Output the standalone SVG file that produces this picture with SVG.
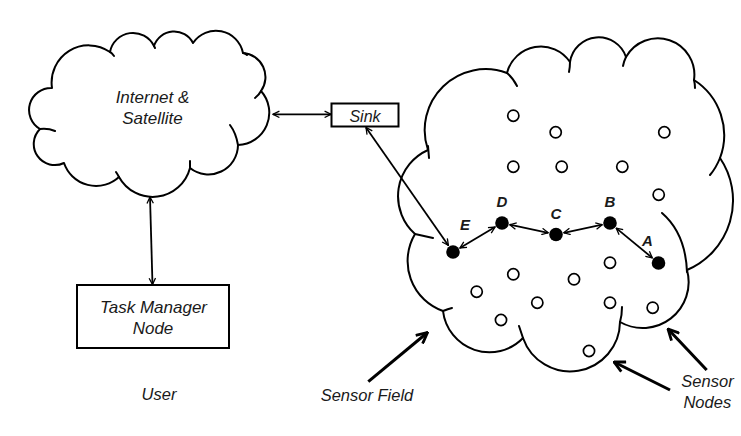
<svg xmlns="http://www.w3.org/2000/svg" width="741" height="436" viewBox="0 0 741 436">
<defs>
<style>
.cloud{fill:none;stroke:#000;stroke-width:2;stroke-linejoin:round;stroke-linecap:round}
.box{fill:#fff;stroke:#000;stroke-width:2}
.lbl{font-family:"Liberation Sans",Arial,sans-serif;font-style:italic;fill:#1a1a1a;text-anchor:middle}
.nl{font-family:"Liberation Sans",Arial,sans-serif;font-style:italic;font-weight:bold;font-size:15px;fill:#1a1a1a;text-anchor:middle}
.hollow{fill:#fff;stroke:#000;stroke-width:1.7}
.solid{fill:#000}
.conn{fill:none;stroke:#000;stroke-width:1.8}
.big{fill:none;stroke:#000;stroke-width:3}
</style>
<marker id="sm" viewBox="0 0 10 10" refX="9" refY="5" markerWidth="8" markerHeight="8" markerUnits="userSpaceOnUse" orient="auto-start-reverse">
<path d="M1,1 L9,5 L1,9" fill="none" stroke="#000" stroke-width="1.6"/>
</marker>
<marker id="lg" viewBox="0 0 12 12" refX="11" refY="6" markerWidth="13" markerHeight="13" markerUnits="userSpaceOnUse" orient="auto">
<path d="M1,1 L11,6 L1,11" fill="none" stroke="#000" stroke-width="2.6"/>
</marker>
</defs>
<rect width="741" height="436" fill="#fff"/>

<g id="internet-satellite">
<path class="cloud" d="M40,129 A22 22 0 0 1 52,88 A37.2 37.2 0 0 1 110,52 A23.4 23.4 0 0 1 154,46 A21.2 21.2 0 0 1 193,43 A27.6 27.6 0 0 1 243,53 A24.1 24.1 0 0 1 261,91 A32.4 32.4 0 0 1 238,145 A29.6 29.6 0 0 1 190,168 A38.5 38.5 0 0 1 119,177 A33.9 33.9 0 0 1 64,163 A21.1 21.1 0 0 1 40,129 Z"/>
<path class="cloud" d="M261,91 Q259,95 255,98 M238,145 Q236,133 230,125 M190,168 Q190,164 190,161 M119,177 Q118,175 116,172 M40,129 Q48,128 55,131 M110,52 Q112,53 114,56 M243,53 Q245,53 247,55 M154,46 L155,48"/>
<text class="lbl" font-size="17" x="152.5" y="102.5">Internet &amp;</text>
<text class="lbl" font-size="17" x="152.5" y="124">Satellite</text>
</g>

<g id="sink">
<rect class="box" x="331.5" y="103.5" width="67" height="23"/>
<text class="lbl" font-size="16" x="365" y="121.5">Sink</text>
</g>

<g id="task-manager">
<rect class="box" x="77" y="285" width="152" height="63"/>
<text class="lbl" font-size="17" x="153.5" y="312.5">Task Manager</text>
<text class="lbl" font-size="17" x="153" y="334">Node</text>
</g>

<g id="user-label">
<text class="lbl" font-size="16.5" x="159" y="400">User</text>
</g>

<g id="sensor-field">
<path class="cloud" d="M428,150 A61 61 0 0 1 507,73 A35 35 0 0 1 570,62 A28.9 28.9 0 0 1 626,57 A36.5 36.5 0 0 1 694,80 A65.4 65.4 0 0 1 720,158 A75.6 75.6 0 0 1 687,270 A45.9 45.9 0 0 1 620,322 A49.9 49.9 0 0 1 523,338 A46.7 46.7 0 0 1 443,311 A53 53 0 0 1 415,234 A50.6 50.6 0 0 1 428,150 Z"/>
<path class="cloud" d="M428,146 Q428.5,152 429,158 M507,73 Q513,78 517,86 M570,62 Q570,67 569,72 M626,57 Q624,61 623,66 M694,80 Q695,84 695,88 M720,158 Q716,168 710,175 M662,213 C677,226 686,245 687,272 M620,322 Q622,315 622,307 M523,338 Q521,332 519,326 M443,311 Q448,309 452,308 M415,234 Q424,236 433,238"/>
</g>

<g id="sensor-nodes">
<circle class="hollow" cx="513.3" cy="115.7" r="5.6"/>
<circle class="hollow" cx="555.7" cy="132.3" r="5.6"/>
<circle class="hollow" cx="664.3" cy="132.3" r="5.6"/>
<circle class="hollow" cx="513.3" cy="166.7" r="5.6"/>
<circle class="hollow" cx="561.7" cy="166.7" r="5.6"/>
<circle class="hollow" cx="622.3" cy="166.7" r="5.6"/>
<circle class="hollow" cx="658.7" cy="194.7" r="5.6"/>
<circle class="hollow" cx="610" cy="262.7" r="5.6"/>
<circle class="hollow" cx="513.3" cy="274.3" r="5.6"/>
<circle class="hollow" cx="574" cy="279.3" r="5.6"/>
<circle class="hollow" cx="476.7" cy="291.7" r="5.6"/>
<circle class="hollow" cx="537.3" cy="302.7" r="5.6"/>
<circle class="hollow" cx="610" cy="302.7" r="5.6"/>
<circle class="hollow" cx="652.7" cy="307.7" r="5.6"/>
<circle class="hollow" cx="501" cy="320" r="5.6"/>
<circle class="hollow" cx="589" cy="351" r="5.6"/>
</g>

<g id="node-E"><circle class="solid" cx="453" cy="252" r="6.8"/><text class="nl" x="465" y="230">E</text></g>
<g id="node-D"><circle class="solid" cx="502" cy="223" r="6.8"/><text class="nl" x="502" y="206.5">D</text></g>
<g id="node-C"><circle class="solid" cx="556" cy="234.5" r="6.8"/><text class="nl" x="556" y="218.5">C</text></g>
<g id="node-B"><circle class="solid" cx="610" cy="223" r="6.8"/><text class="nl" x="610" y="207">B</text></g>
<g id="node-A"><circle class="solid" cx="658.5" cy="263" r="6.8"/><text class="nl" x="647.5" y="246">A</text></g>

<g id="labels">
<text class="lbl" font-size="16.5" x="367" y="401">Sensor Field</text>
<text class="lbl" font-size="16.5" x="707.5" y="386.5">Sensor</text>
<text class="lbl" font-size="16.5" x="707.3" y="407.5">Nodes</text>
</g>

<g id="connectors">
<line class="conn" x1="273" y1="114.3" x2="331" y2="114.3" marker-start="url(#sm)" marker-end="url(#sm)"/>
<line class="conn" x1="150" y1="197" x2="152.5" y2="284.5" marker-start="url(#sm)" marker-end="url(#sm)"/>
<line class="conn" x1="366" y1="127.5" x2="448.4" y2="245.4" marker-start="url(#sm)" marker-end="url(#sm)"/>
<line class="conn" x1="459.9" y1="247.9" x2="495.1" y2="227.1" marker-start="url(#sm)" marker-end="url(#sm)"/>
<line class="conn" x1="509.8" y1="224.7" x2="548.2" y2="232.8" marker-start="url(#sm)" marker-end="url(#sm)"/>
<line class="conn" x1="563.8" y1="232.8" x2="602.2" y2="224.7" marker-start="url(#sm)" marker-end="url(#sm)"/>
<line class="conn" x1="616.2" y1="228.1" x2="652.3" y2="257.9" marker-start="url(#sm)" marker-end="url(#sm)"/>
<line class="big" x1="368.3" y1="381.7" x2="427.5" y2="332.5" marker-end="url(#lg)"/>
<line class="big" x1="670" y1="390" x2="614" y2="362" marker-end="url(#lg)"/>
<line class="big" x1="706.7" y1="370" x2="668" y2="329" marker-end="url(#lg)"/>
</g>
</svg>
